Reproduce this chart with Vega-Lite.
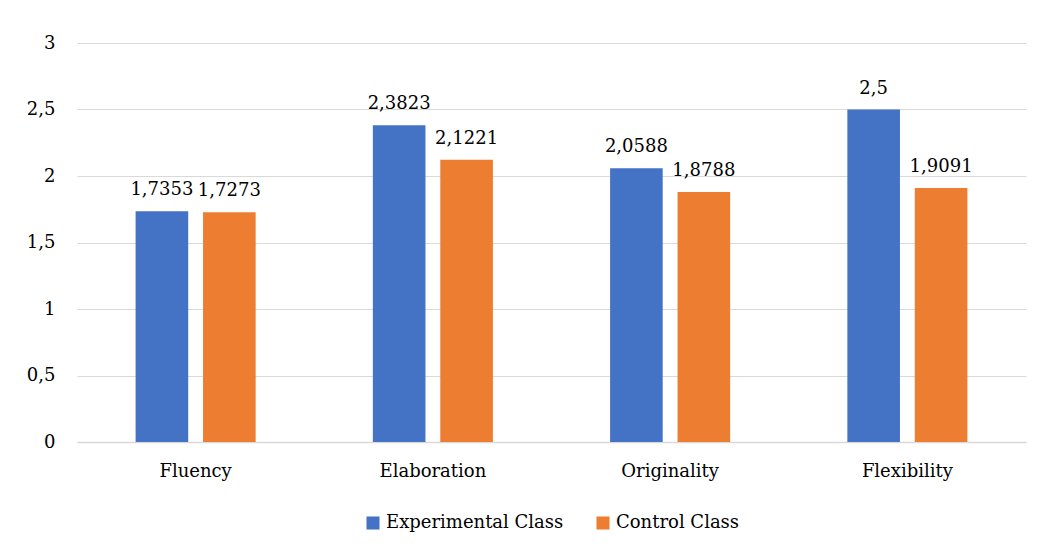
{
  "$schema": "https://vega.github.io/schema/vega-lite/v6.json",
  "width": 949,
  "height": 399,
  "autosize": {"type": "none"},
  "padding": {"left": 77, "top": 43, "right": 13, "bottom": 107},
  "background": "white",
  "config": {
    "locale": {"number": {"decimal": ",", "thousands": ".", "grouping": [3], "currency": ["", ""]}},
    "font": "DejaVu Serif",
    "view": {"stroke": null},
    "legend": {"layout": {"bottom": {"anchor": "middle"}}}
  },
  "data": {
    "values": [
      {"skill": "Fluency", "group": "Experimental Class", "value": 1.7353},
      {"skill": "Fluency", "group": "Control Class", "value": 1.7273},
      {"skill": "Elaboration", "group": "Experimental Class", "value": 2.3823},
      {"skill": "Elaboration", "group": "Control Class", "value": 2.1221},
      {"skill": "Originality", "group": "Experimental Class", "value": 2.0588},
      {"skill": "Originality", "group": "Control Class", "value": 1.8788},
      {"skill": "Flexibility", "group": "Experimental Class", "value": 2.5},
      {"skill": "Flexibility", "group": "Control Class", "value": 1.9091}
    ]
  },
  "encoding": {
    "x": {
      "field": "skill", "type": "nominal", "sort": null, "title": null,
      "scale": {"paddingInner": 0.494, "paddingOuter": 0.247},
      "axis": {"labelAngle": 0, "labelFont": "DejaVu Serif", "labelFontSize": 18, "labelColor": "#000000", "labelPadding": 20, "ticks": false, "domainColor": "#d9d9d9", "domainWidth": 1.5}
    },
    "xOffset": {
      "field": "group", "type": "nominal", "sort": ["Experimental Class", "Control Class"],
      "scale": {"paddingInner": 0.22, "paddingOuter": 0}
    },
    "y": {
      "field": "value", "type": "quantitative", "title": null,
      "scale": {"domain": [0, 3], "nice": false},
      "axis": {"values": [0, 0.5, 1, 1.5, 2, 2.5, 3], "format": "~g", "labelFont": "DejaVu Serif", "labelFontSize": 18, "labelColor": "#000000", "labelPadding": 22, "ticks": false, "domain": false, "gridColor": "#d9d9d9", "gridWidth": 1.2}
    }
  },
  "layer": [
    {
      "mark": {"type": "bar"},
      "encoding": {
        "color": {
          "field": "group", "type": "nominal", "sort": ["Experimental Class", "Control Class"], "title": null,
          "scale": {"domain": ["Experimental Class", "Control Class"], "range": ["#4472c4", "#ed7d31"]},
          "legend": {"orient": "bottom", "direction": "horizontal", "labelFont": "DejaVu Serif", "labelFontSize": 18, "labelLimit": 0, "labelColor": "#000000", "symbolType": "square", "symbolSize": 170, "symbolStrokeWidth": 0, "columnPadding": 30, "labelOffset": 4, "offset": 34}
        }
      }
    },
    {
      "mark": {"type": "text", "baseline": "bottom", "dy": -12, "font": "DejaVu Serif", "fontSize": 18, "color": "#000000"},
      "encoding": {
        "text": {"field": "value", "type": "quantitative", "format": "~g"}
      }
    }
  ]
}
